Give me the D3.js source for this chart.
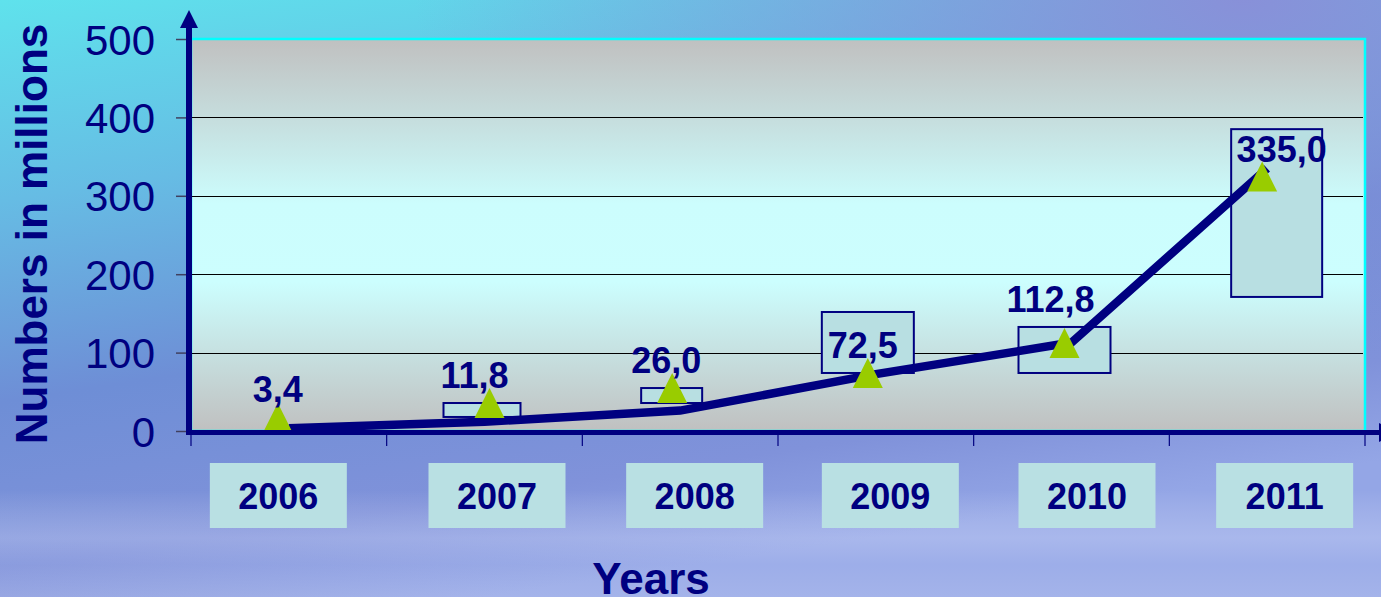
<!DOCTYPE html>
<meta charset="utf-8">
<title>Numbers in millions</title>
<style>
  body {
    margin: 0;
    padding: 0;
    overflow: hidden;
  }

  svg {
    display: block;
    font-family: Arial, "Liberation Sans", sans-serif;
  }

  .tick text {
    font-size: 42px;
    fill: #000080;
  }

  .tick line {
    stroke: #404060;
    stroke-width: 1.5;
  }

  .grid line {
    stroke: #000;
    stroke-width: 1;
  }

  .valbox {
    fill: #b8dfe2;
    stroke: #000080;
    stroke-width: 2;
  }

  .catbox {
    fill: #b9e0e3;
  }

  .bold {
    font-weight: bold;
    fill: #000080;
  }
</style>

<body>
  <script src="https://d3js.org/d3.v7.min.js"></script>
  <script>
    // data
    const years = ["2006", "2007", "2008", "2009", "2010", "2011"];
    const values = [3.4, 11.8, 26.0, 72.5, 112.8, 335.0];
    const valueLabels = ["3,4", "11,8", "26,0", "72,5", "112,8", "335,0"];
    // where the triangle markers sit (centre of triangle, in millions)
    const markerLevels = [16.6, 35.7, 54.8, 74.0, 112.2, 324.6];
    // the little boxes behind the labels (low / high, in millions)
    const boxLow = [null, 17.9, 35.7, 74.0, 74.0, 171.0];
    const boxHigh = [null, 35.7, 54.8, 151.8, 132.7, 385.0];
    const yTicks = [0, 100, 200, 300, 400, 500];

    // hand placed shifts of the slide (px)
    const markerDx = [-11, 5, -8, -8, -7, -5];
    const boxDx = [0, -2.5, -8.5, -8, -7, 9.5];
    const boxW = [0, 77, 61, 92, 92, 91];
    const labelDx = [-11, -10, -14, -13, -21, 14.5];
    const labelDy = [-1, 0, 0, 0, -16, 0];
    const catDx = [-10.5, 12.5, 14.5, 14.5, 15.5, 17.5];

    var width = 1381,
      height = 597;
    var plotL = 191, plotT = 39, plotR = 1365, plotB = 431;

    var x = d3.scaleBand().domain(years).range([plotL, plotR]);
    var y = d3.scaleLinear().domain([0, 500]).range([plotB, plotT]);
    var cx = d => x(d) + x.bandwidth() / 2;

    var svg = d3.select("body").append("svg")
      .attr("width", width)
      .attr("height", height);

    var defs = svg.append("defs");

    var bg = defs.append("linearGradient").attr("id", "bg")
      .attr("x1", 0).attr("y1", 0).attr("x2", 0.35).attr("y2", 1);
    bg.append("stop").attr("offset", "0%").attr("stop-color", "#5fe2ec");
    bg.append("stop").attr("offset", "30%").attr("stop-color", "#66bce4");
    bg.append("stop").attr("offset", "60%").attr("stop-color", "#6e8ed6");
    bg.append("stop").attr("offset", "85%").attr("stop-color", "#8092da");
    bg.append("stop").attr("offset", "100%").attr("stop-color", "#94a6e6");

    var tr = defs.append("radialGradient").attr("id", "topright")
      .attr("cx", 0.9).attr("cy", 0).attr("r", 0.6);
    tr.append("stop").attr("offset", "0%").attr("stop-color", "#8a8ed8").attr("stop-opacity", 0.95);
    tr.append("stop").attr("offset", "100%").attr("stop-color", "#8a8ed8").attr("stop-opacity", 0);

    var streak = defs.append("linearGradient").attr("id", "streak")
      .attr("x1", 0).attr("y1", 0).attr("x2", 0).attr("y2", 1);
    streak.append("stop").attr("offset", "0%").attr("stop-color", "#fff").attr("stop-opacity", 0);
    streak.append("stop").attr("offset", "45%").attr("stop-color", "#e8ecff").attr("stop-opacity", 0.25);
    streak.append("stop").attr("offset", "70%").attr("stop-color", "#dfe6ff").attr("stop-opacity", 0.12);
    streak.append("stop").attr("offset", "100%").attr("stop-color", "#fff").attr("stop-opacity", 0.15);

    var plotbg = defs.append("linearGradient").attr("id", "plotbg")
      .attr("x1", 0).attr("y1", 0).attr("x2", 0).attr("y2", 1);
    plotbg.append("stop").attr("offset", "0%").attr("stop-color", "#c0c0c0");
    plotbg.append("stop").attr("offset", "42%").attr("stop-color", "#ccfdfd");
    plotbg.append("stop").attr("offset", "62%").attr("stop-color", "#ccfefe");
    plotbg.append("stop").attr("offset", "100%").attr("stop-color", "#c0c0c0");

    svg.append("rect").attr("width", width).attr("height", height).attr("fill", "url(#bg)");
    svg.append("rect").attr("width", width).attr("height", height).attr("fill", "url(#topright)");
    svg.append("rect").attr("y", 490).attr("width", width).attr("height", 107).attr("fill", "url(#streak)");

    // plot area
    svg.append("rect")
      .attr("x", plotL).attr("y", plotT)
      .attr("width", plotR - plotL).attr("height", plotB - plotT)
      .attr("fill", "url(#plotbg)")
      .attr("stroke", "#00ffff")
      .attr("stroke-width", 2.5);

    svg.append("g").attr("class", "grid")
      .selectAll("line").data(yTicks.filter(d => d > 0 && d < 500))
      .enter().append("line")
      .attr("x1", plotL).attr("x2", plotR - 2)
      .attr("y1", d => Math.round(y(d)) + 0.5)
      .attr("y2", d => Math.round(y(d)) + 0.5);

    // label boxes
    svg.append("g").selectAll("rect").data(years.filter((d, i) => boxLow[i] !== null))
      .enter().append("rect")
      .attr("class", "valbox")
      .attr("x", d => { var i = years.indexOf(d); return cx(d) + boxDx[i] - boxW[i] / 2; })
      .attr("y", d => y(boxHigh[years.indexOf(d)]))
      .attr("width", d => boxW[years.indexOf(d)])
      .attr("height", d => { var i = years.indexOf(d); return y(boxLow[i]) - y(boxHigh[i]); });

    // the line
    var line = d3.line()
      .x((d, i) => cx(years[i]))
      .y(d => y(d));

    svg.append("path")
      .datum(values)
      .attr("d", line)
      .attr("fill", "none")
      .attr("stroke", "#000080")
      .attr("stroke-width", 8.5)
      .attr("stroke-linejoin", "miter");

    // triangle markers
    svg.append("g").selectAll("path").data(markerLevels)
      .enter().append("path")
      .attr("d", (d, i) => {
        var mx = cx(years[i]) + markerDx[i], my = y(d);
        return `M${mx},${my - 15}L${mx + 15},${my + 15}L${mx - 15},${my + 15}Z`;
      })
      .attr("fill", "#99cc00");

    // value labels
    svg.append("g").selectAll("text").data(valueLabels)
      .enter().append("text")
      .attr("class", "bold")
      .attr("x", (d, i) => cx(years[i]) + labelDx[i])
      .attr("y", (d, i) => y(markerLevels[i]) - 15 + labelDy[i])
      .attr("text-anchor", "middle")
      .style("font-size", "36px")
      .text(d => d);

    // y axis
    var yAxis = svg.append("g")
      .attr("transform", `translate(187,0)`)
      .call(d3.axisLeft(y).tickValues(yTicks).tickSize(11).tickPadding(21));
    yAxis.select(".domain").remove();
    yAxis.selectAll(".tick text").attr("dy", "0.36em");

    svg.append("line")
      .attr("x1", 189).attr("x2", 189)
      .attr("y1", 435).attr("y2", 26)
      .attr("stroke", "#000080").attr("stroke-width", 6);
    svg.append("path")
      .attr("d", "M189,10L198,28L180,28Z")
      .attr("fill", "#000080");

    // x axis
    svg.append("g").selectAll("line").data(d3.range(years.length + 1))
      .enter().append("line")
      .attr("x1", i => plotL + i * x.step()).attr("x2", i => plotL + i * x.step())
      .attr("y1", 434).attr("y2", 446)
      .attr("stroke", "#000080").attr("stroke-width", 1.2);

    svg.append("line")
      .attr("x1", 186).attr("x2", 1380)
      .attr("y1", 432.5).attr("y2", 432.5)
      .attr("stroke", "#000080").attr("stroke-width", 5);
    svg.append("path")
      .attr("d", "M1379,423L1397,432.5L1379,442Z")
      .attr("fill", "#000080");

    // category boxes
    var cats = svg.append("g").selectAll("g").data(years)
      .enter().append("g")
      .attr("transform", (d, i) => `translate(${cx(d) + catDx[i]},0)`);
    cats.append("rect")
      .attr("class", "catbox")
      .attr("x", -68.5).attr("y", 463)
      .attr("width", 137).attr("height", 65);
    cats.append("text")
      .attr("class", "bold")
      .attr("y", 509)
      .attr("text-anchor", "middle")
      .style("font-size", "36px")
      .text(d => d);

    // titles
    svg.append("text")
      .attr("class", "bold")
      .attr("transform", "translate(47,234) rotate(-90)")
      .attr("text-anchor", "middle")
      .style("font-size", "44px")
      .text("Numbers in millions");

    svg.append("text")
      .attr("class", "bold")
      .attr("x", 651).attr("y", 594)
      .attr("text-anchor", "middle")
      .style("font-size", "44px")
      .text("Years");
  </script>
</body>
